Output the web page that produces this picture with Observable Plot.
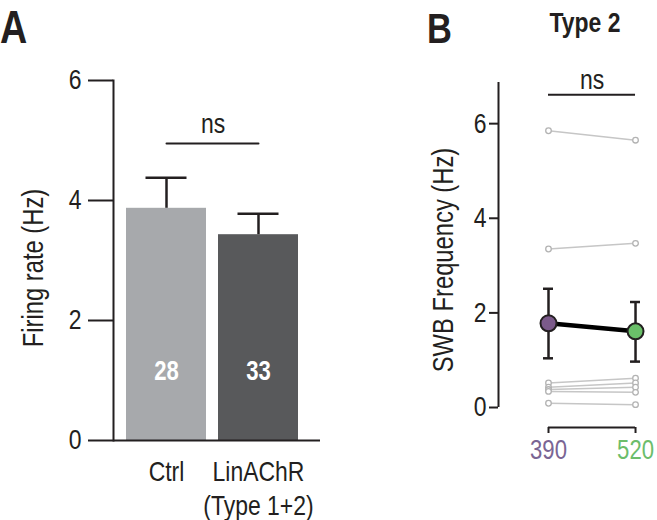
<!DOCTYPE html>
<html><head><meta charset="utf-8">
<script src="https://cdn.jsdelivr.net/npm/d3@7"></script>
<script src="https://cdn.jsdelivr.net/npm/@observablehq/plot@0.6"></script>
<style>
body{margin:0;background:#fff;}
#fig{position:relative;width:657px;height:520px;overflow:hidden;font-family:"Liberation Sans",Arial,sans-serif;color:#231f20;}
.panel{position:absolute;top:0;}
.lbl{position:absolute;font-weight:bold;line-height:1;white-space:nowrap;transform:scaleX(0.82);}
</style></head><body>
<div id="fig">
  <div id="pa" class="panel" style="left:0"></div>
  <div id="pb" class="panel" style="left:400px"></div>
  <div class="lbl" style="left:0px;top:4px;font-size:46px;transform-origin:left center">A</div>
  <div class="lbl" style="left:427px;top:8px;font-size:42px;transform-origin:left center">B</div>
  <div class="lbl" style="left:485px;top:9px;width:200px;text-align:center;font-size:28px;transform-origin:center center">Type 2</div>
</div>
<script>
// ---------- Panel A data ----------
const groupsA = ["Ctrl", "LinAChR"];
const groupLabelsA = ["Ctrl", "LinAChR\n(Type 1+2)"];
const ratesA = [3.87, 3.43];
const errHighA = [4.38, 3.78];
const nA = [28, 33];
const barColorsA = ["#a7a9ac", "#58595b"];
const yTicksA = [0, 2, 4, 6];

// ---------- Panel B data ----------
const wavelengthsB = [390, 520];
const labelColorsB = ["#7a6594", "#6cbd6b"];
const meanColorsB = ["#7b5a8a", "#6abf69"];
const cells390 = [5.85, 3.35, 0.52, 0.43, 0.38, 0.34, 0.09];
const cells520 = [5.65, 3.47, 0.62, 0.52, 0.43, 0.32, 0.06];
const meansB = [1.78, 1.61];
const errLowB = [1.04, 0.97];
const errHighB = [2.51, 2.23];
const yTicksB = [0, 2, 4, 6];

const FONT = '"Liberation Sans",Arial,sans-serif';

// condense all svg text horizontally around its own anchor (reference uses a narrow sans)
function squeeze(svg, f) {
  svg.querySelectorAll("text").forEach(t => {
    const xa = t.getAttribute("x");
    const x = xa !== null && isFinite(+xa) ? +xa : 0;
    const tr = t.getAttribute("transform") || "";
    const comp = x ? ` translate(${(1 - f) * x},0)` : "";
    t.setAttribute("transform", `${tr}${comp} scale(${f},1)`.trim());
  });
}

// ---------- Panel A ----------
const dataA = groupsA.map((g, i) => ({group: g, rate: ratesA[i], hi: errHighA[i], n: nA[i], color: barColorsA[i]}));
const nsA = 4.95;
const plotA = Plot.plot({
  width: 330, height: 520,
  marginLeft: 113, marginRight: 10, marginTop: 80, marginBottom: 80,
  style: {fontFamily: FONT, fontSize: "28px", color: "#231f20", background: "transparent"},
  x: {domain: groupsA, paddingInner: 0.129, paddingOuter: 0.1775, align: 0.364, label: null},
  y: {domain: [0, 6], label: null},
  color: {type: "identity"},
  marks: [
    Plot.barY(dataA, {x: "group", y: "rate", fill: "color"}),
    Plot.ruleX(dataA, {x: "group", y1: "rate", y2: "hi", strokeWidth: 2.5, stroke: "#231f20"}),
    Plot.tickY(dataA, {x: "group", y: "hi", inset: 19.5, strokeWidth: 2.5, stroke: "#231f20"}),
    Plot.text(dataA, {x: "group", y: 1.16, text: d => String(d.n), fill: "white", fontWeight: "bold", fontSize: 27}),
    Plot.frame({anchor: "left", strokeWidth: 2, stroke: "#231f20"}),
    Plot.ruleY([0], {strokeWidth: 2, stroke: "#231f20"}),
    Plot.axisY({ticks: yTicksA, tickFormat: d => String(d), tickSize: 25, tickPadding: 7, strokeWidth: 2, fontSize: 28, label: null}),
    Plot.axisX({tickSize: 0, tickPadding: 17, lineHeight: 1.2, tickFormat: d => groupLabelsA[groupsA.indexOf(d)], label: null}),
    Plot.lineY(groupsA, {x: d => d, y: nsA, strokeWidth: 2, stroke: "#231f20"}),
    Plot.text(["ns"], {x: () => groupsA[0], y: nsA, dx: 46.5, dy: -11, lineAnchor: "bottom"}),
    Plot.text(["Firing rate (Hz)"], {frameAnchor: "left", textAnchor: "middle", rotate: -90, dx: -80, dy: 7.5, fontSize: 29})
  ]
});
document.getElementById("pa").appendChild(plotA);
squeeze(plotA, 0.82);

// ---------- Panel B ----------
const yMaxB = 6.87, yMinB = -0.4226;
const xDomB = [315.3, 534.9];
const pairsB = cells390.map((a, i) => ({a, b: cells520[i]}));
const dotsB = cells390.map(v => ({w: 390, v})).concat(cells520.map(v => ({w: 520, v})));
const meanData = wavelengthsB.map((w, i) => ({w, mean: meansB[i], lo: errLowB[i], hi: errHighB[i], color: meanColorsB[i]}));
const nsB = 6.61;
const plotB = Plot.plot({
  width: 257, height: 520,
  marginLeft: 98, marginRight: 12, marginTop: 82, marginBottom: 93,
  style: {fontFamily: FONT, fontSize: "28px", color: "#231f20", background: "transparent"},
  x: {domain: xDomB, label: null},
  y: {domain: [yMinB, yMaxB], label: null},
  color: {type: "identity"},
  marks: [
    Plot.ruleX([xDomB[0]], {y1: 0, y2: yMaxB, strokeWidth: 2, stroke: "#231f20"}),
    Plot.axisY({ticks: yTicksB, tickFormat: d => String(d), tickSize: 9, tickPadding: 3, strokeWidth: 2, fontSize: 28, label: null}),
    Plot.ruleY([yMinB], {x1: wavelengthsB[0], x2: wavelengthsB[1], strokeWidth: 2, stroke: "#231f20"}),
    Plot.axisX({ticks: wavelengthsB, tickFormat: d => String(d), tickSize: 6, tickPadding: 6, strokeWidth: 2, fontSize: 27, label: null,
      fill: d => labelColorsB[wavelengthsB.indexOf(d)]}),
    Plot.link(pairsB, {x1: () => wavelengthsB[0], y1: "a", x2: () => wavelengthsB[1], y2: "b", stroke: "#c6c6c6", strokeWidth: 1.5}),
    Plot.dot(dotsB, {x: "w", y: "v", r: 2.8, stroke: "#b3b3b3", fill: "white", strokeWidth: 1.3}),
    Plot.ruleX(meanData, {x: "w", y1: "lo", y2: "hi", strokeWidth: 2.5, stroke: "#231f20"}),
    Plot.ruleY(meanData, {x1: "w", x2: "w", y: "lo", insetLeft: -5, insetRight: -5, strokeWidth: 2.5, stroke: "#231f20"}),
    Plot.ruleY(meanData, {x1: "w", x2: "w", y: "hi", insetLeft: -5, insetRight: -5, strokeWidth: 2.5, stroke: "#231f20"}),
    Plot.line(meanData, {x: "w", y: "mean", strokeWidth: 4.5, stroke: "#000"}),
    Plot.dot(meanData, {x: "w", y: "mean", r: 8, fill: "color", stroke: "#231f20", strokeWidth: 2}),
    Plot.ruleY([nsB], {x1: wavelengthsB[0], x2: wavelengthsB[1], strokeWidth: 2, stroke: "#231f20"}),
    Plot.text(["ns"], {x: () => (wavelengthsB[0] + wavelengthsB[1]) / 2, y: nsB, dy: -6, lineAnchor: "bottom"}),
    Plot.text(["SWB Frequency (Hz)"], {frameAnchor: "left", textAnchor: "middle", rotate: -90, dx: -55, dy: 5, fontSize: 29})
  ]
});
document.getElementById("pb").appendChild(plotB);
squeeze(plotB, 0.82);
</script>
</body></html>
